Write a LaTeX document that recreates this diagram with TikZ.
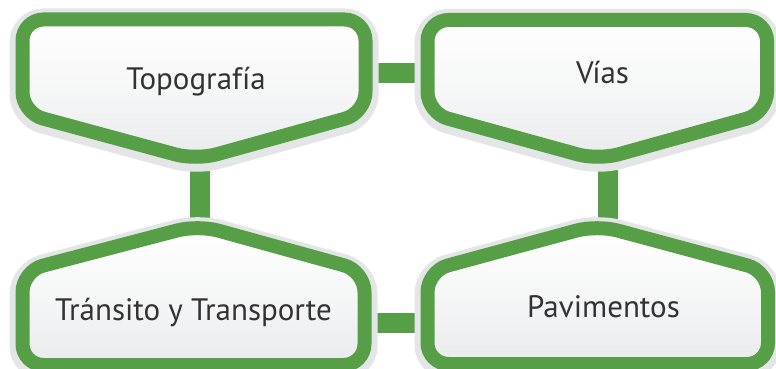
\documentclass[tikz,border=0pt]{standalone}
\usepackage{fontspec}
\setmainfont{PT Sans}
\definecolor{grn}{RGB}{86,159,71}
\definecolor{halo}{RGB}{228,229,231}
\definecolor{fillbot}{RGB}{233,234,236}
\definecolor{txt}{RGB}{51,51,51}
\newcommand\mkshape[1]{%
  \draw[halostroke,yshift=-2pt] #1;
  \shade[top color=white,bottom color=fillbot,middle color=white!60!fillbot,rounded corners=21pt] #1;
  \draw[greenstroke] #1;}
\begin{document}
\begin{tikzpicture}[x=1pt,y=-1pt,
  halostroke/.style={draw=halo,line width=26pt,rounded corners=21pt},
  greenstroke/.style={draw=grn,line width=14pt,rounded corners=21pt},
  conn/.style={draw=grn,line width=20pt},
  lbl/.style={anchor=base,text=txt,font=\fontsize{31}{33}\selectfont,inner sep=0pt},
  hub/.style={inner sep=0pt,minimum size=0pt}]
\useasboundingbox (0,0) rectangle (776,369);
% connection hubs
\node[hub] (TL) at (199.5,73) {};
\node[hub] (TR) at (607.5,73) {};
\node[hub] (BL) at (199.5,323) {};
\node[hub] (BR) at (607.5,323) {};
% connectors
\draw[conn] (TL) -- (TR);
\draw[conn] (BL) -- (BR);
\draw[conn] (TL) -- (BL);
\draw[conn] (TR) -- (BR);
% shapes
\mkshape{(22.5,19.5) -- (365.5,19.5) -- (365.5,113) -- (196,160) -- (22.5,113) -- cycle}
\mkshape{(427.5,20) -- (767,20) -- (767,113) -- (598,160) -- (427.5,113) -- cycle}
\mkshape{(22.5,271) -- (198,225) -- (364.5,271) -- (364.5,365) -- (22.5,365) -- cycle}
\mkshape{(427.5,271) -- (597,225) -- (768,271) -- (768,364) -- (427.5,364) -- cycle}
% labels
\node[lbl] (topo) at (196,89) {Topografía};
\node[lbl] (vias) at (602.5,83) {Vías};
\node[lbl] (trans) at (193.5,320) {Tránsito y Transporte};
\node[lbl] (pav) at (603.5,317) {Pavimentos};
\end{tikzpicture}
\end{document}
